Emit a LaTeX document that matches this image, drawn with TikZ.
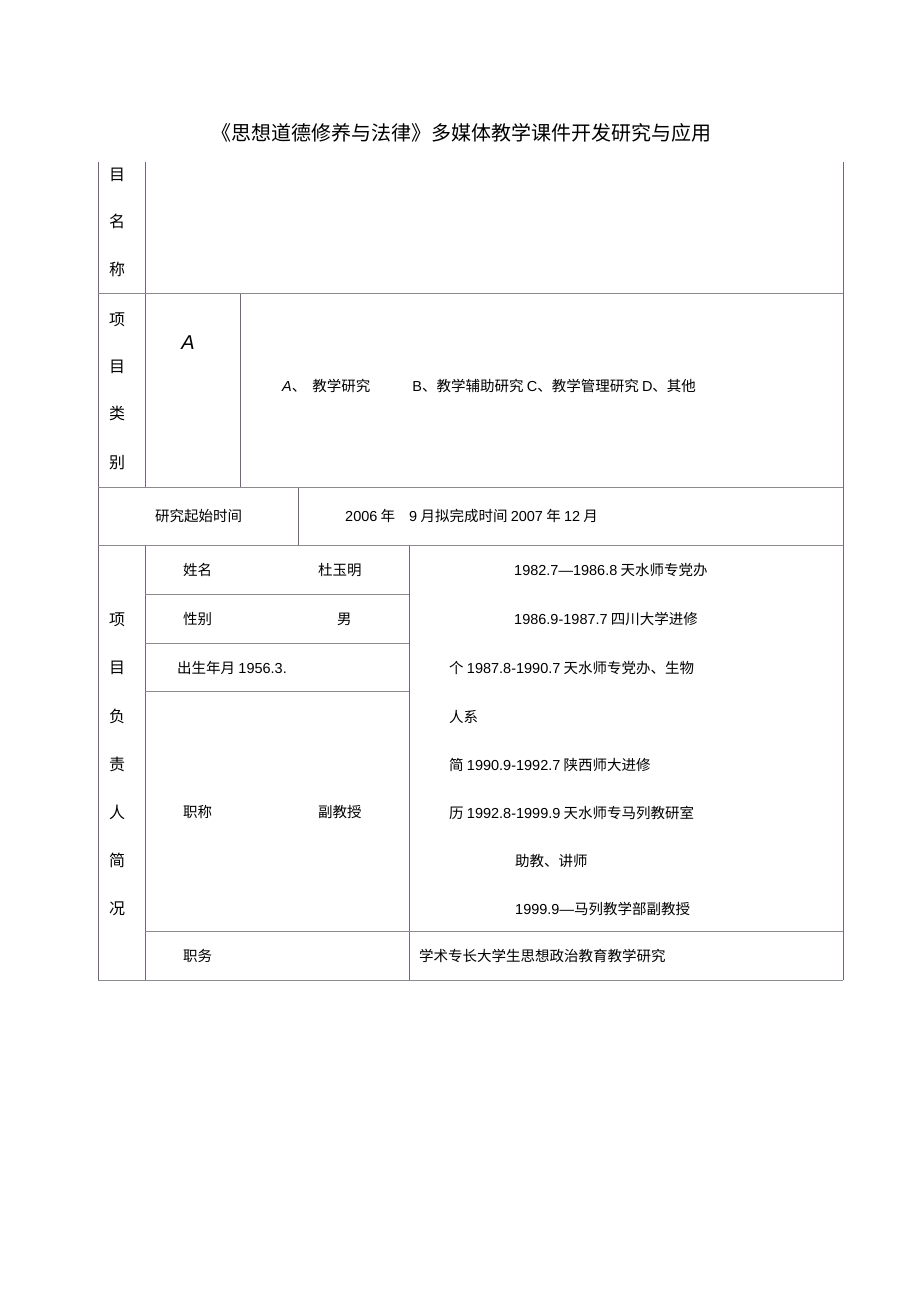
\documentclass[tikz,border=0pt]{standalone}
\usepackage{fontspec}
\setmainfont{Noto Sans CJK SC}
\newfontfamily\latin{Liberation Sans}
\definecolor{linev}{RGB}{118,100,124}
\definecolor{lineh}{RGB}{140,138,140}
\begin{document}
\begin{tikzpicture}[x=1pt,y=-1pt,
  vline/.style={draw=linev,line width=0.9pt},
  hline/.style={draw=lineh,line width=0.9pt},
  txt/.style={anchor=base west,inner sep=0pt,font=\fontsize{14.5}{17}\selectfont},
  ch/.style={anchor=base,inner sep=0pt,font=\fontsize{16}{19}\selectfont}]
\useasboundingbox[fill=white] (0,0) rectangle (920,1303);
% title
\node[anchor=base,inner sep=0pt,font=\fontsize{20}{24}\selectfont] (title) at (461,141) {《思想道德修养与法律》多媒体教学课件开发研究与应用};
% lines
\draw[vline] (98,162) -- (98,980);
\draw[vline] (843,162) -- (843,980);
\draw[vline] (145,162) -- (145,487);
\draw[vline] (145,545) -- (145,980);
\draw[vline] (240,293) -- (240,487);
\draw[vline] (298,487) -- (298,545);
\draw[vline] (409,545) -- (409,980);
\draw[hline] (98,293) -- (843,293);
\draw[hline] (98,487) -- (843,487);
\draw[hline] (98,545) -- (843,545);
\draw[hline] (145,594) -- (409,594);
\draw[hline] (145,643) -- (409,643);
\draw[hline] (145,691) -- (409,691);
\draw[hline] (145,931) -- (843,931);
\draw[hline] (98,980) -- (843,980);
% left column
\node[ch] (c1) at (117,180) {目};
\node[ch] (c2) at (117,227) {名};
\node[ch] (c3) at (117,275) {称};
\node[ch] (d1) at (117,325) {项};
\node[ch] (d2) at (117,372) {目};
\node[ch] (d3) at (117,419) {类};
\node[ch] (d4) at (117,468) {别};
\node[ch] (e1) at (117,625) {项};
\node[ch] (e2) at (117,673) {目};
\node[ch] (e3) at (117,722) {负};
\node[ch] (e4) at (117,770) {责};
\node[ch] (e5) at (117,818) {人};
\node[ch] (e6) at (117,866) {简};
\node[ch] (e7) at (117,914) {况};
% type
\node[anchor=base,inner sep=0pt,font=\latin\itshape\fontsize{20}{24}\selectfont] (bigA) at (188,349) {A};
\node[txt] (types) at (282,391) {{\latin\itshape A}、\hspace{6pt}教学研究\hspace{42pt}{\latin B}、教学辅助研究 {\latin C}、教学管理研究 {\latin D}、其他};
% time
\node[txt] (tlabel) at (155,521) {研究起始时间};
\node[txt] (tval) at (345,521) {{\latin 2006} 年\hspace{14pt}{\latin 9} 月拟完成时间 {\latin 2007} 年 {\latin 12} 月};
% personal
\node[txt] (n1) at (183,575) {姓名};
\node[txt] (n2) at (318,575) {杜玉明};
\node[txt] (s1) at (183,624) {性别};
\node[txt] (s2) at (337,624) {男};
\node[txt] (b1) at (177,673) {出生年月 {\latin 1956.3.}};
\node[txt] (z1) at (183,817) {职称};
\node[txt] (z2) at (318,817) {副教授};
\node[txt] (w1) at (183,961) {职务};
% resume
\node[txt] (r1) at (514,575) {{\latin 1982.7—1986.8} 天水师专党办};
\node[txt] (r2) at (514,624) {{\latin 1986.9-1987.7} 四川大学进修};
\node[txt] (r3) at (449,673) {个 {\latin 1987.8-1990.7} 天水师专党办、生物};
\node[txt] (r4) at (449,722) {人系};
\node[txt] (r5) at (449,770) {简 {\latin 1990.9-1992.7} 陕西师大进修};
\node[txt] (r6) at (449,818) {历 {\latin 1992.8-1999.9} 天水师专马列教研室};
\node[txt] (r7) at (515,866) {助教、讲师};
\node[txt] (r8) at (515,914) {{\latin 1999.9—}马列教学部副教授};
\node[txt] (spec) at (419,961) {学术专长大学生思想政治教育教学研究};
\end{tikzpicture}
\end{document}
